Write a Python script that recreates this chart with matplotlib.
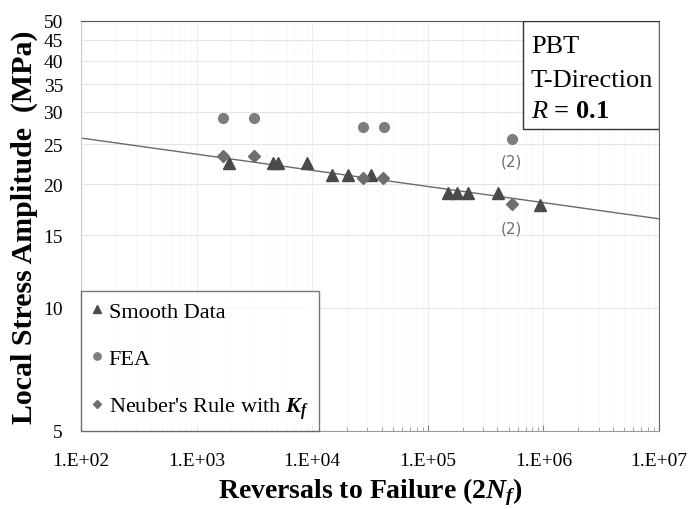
import matplotlib.pyplot as plt
import numpy as np
from matplotlib.patches import Rectangle
from matplotlib.ticker import FixedLocator, FixedFormatter, LogLocator, NullFormatter

plt.rcParams['font.family'] = ['Liberation Serif', 'DejaVu Serif']
plt.rcParams['mathtext.fontset'] = 'custom'
plt.rcParams['mathtext.rm'] = 'Liberation Serif:bold'
plt.rcParams['mathtext.it'] = 'Liberation Serif:italic:bold'
plt.rcParams['mathtext.bf'] = 'Liberation Serif:bold'
plt.rcParams['mathtext.cal'] = 'Liberation Serif:italic'

# Smooth specimen data
smooth_n = [1920, 4610, 5030, 8960, 14900, 20300, 32300, 150000, 180000, 221000, 407000, 935000]
smooth_s = [22.5, 22.5, 22.5, 22.5, 21.0, 21.0, 21.0, 19.0, 19.0, 19.0, 19.0, 17.8]

# FEA local stresses
fea_n = [1680, 3160, 27700, 41500, 532000]
fea_s = [29.0, 29.0, 27.6, 27.6, 25.8]

# Neuber's rule with Kf
neuber_n = [1680, 3160, 27400, 41000, 532000]
neuber_s = [23.4, 23.4, 20.7, 20.7, 17.9]

# fitted S-N line  S = A * (2Nf)^b
fit_a = 31.06
fit_b = -0.0394
fit_range = [1e2, 1e7]

y_ticks = [5, 10, 15, 20, 25, 30, 35, 40, 45, 50]
x_ticks = [1e2, 1e3, 1e4, 1e5, 1e6, 1e7]
x_tick_labels = ['1.E+02', '1.E+03', '1.E+04', '1.E+05', '1.E+06', '1.E+07']

fig = plt.figure(figsize=(6.89, 5.10), dpi=100)
ax = fig.add_axes([0.1176, 0.153, 0.839, 0.804])

n_line = np.logspace(np.log10(fit_range[0]), np.log10(fit_range[1]), 50)
ax.plot(n_line, fit_a * n_line ** fit_b, color='#6a6a6a', lw=1.0, zorder=2)

ax.plot(smooth_n, smooth_s, ls='none', marker='^', ms=8, color='#4a4a4a',
        label='Smooth Data', zorder=3)
ax.plot(fea_n, fea_s, ls='none', marker='o', ms=7, color='#7d7d7d',
        label='FEA', zorder=3)
ax.plot(neuber_n, neuber_s, ls='none', marker='D', ms=6, color='#6e6e6e',
        label="Neuber's Rule with $K_f$", zorder=3)

# "(2)" notes for repeated points
ax.annotate('(2)', (fea_n[-1], fea_s[-1]), xytext=(0, -16), textcoords='offset points',
            ha='center', va='center', fontsize=11, color='#707070', family='DejaVu Sans')
ax.annotate('(2)', (neuber_n[-1], neuber_s[-1]), xytext=(0, -17.5), textcoords='offset points',
            ha='center', va='center', fontsize=11, color='#707070', family='DejaVu Sans')

ax.set_xscale('log')
ax.set_yscale('log')
ax.set_xlim(1e2, 1e7)
ax.set_ylim(5, 50)

ax.yaxis.set_major_locator(FixedLocator(y_ticks))
ax.yaxis.set_major_formatter(FixedFormatter([str(v) for v in y_ticks]))
ax.yaxis.set_minor_locator(FixedLocator([]))
ax.tick_params(axis='y', which='both', length=0, labelsize=14, pad=13)

ax.xaxis.set_major_locator(FixedLocator(x_ticks))
ax.xaxis.set_major_formatter(FixedFormatter(x_tick_labels))
ax.xaxis.set_minor_locator(LogLocator(base=10, subs=np.arange(2, 10)))
ax.xaxis.set_minor_formatter(NullFormatter())
ax.tick_params(axis='x', which='major', direction='in', length=4, color='#888888',
               labelsize=14, pad=15)
ax.tick_params(axis='x', which='minor', direction='in', length=3, color='#999999')

ax.grid(True, axis='y', which='major', color='#e6e6e6', lw=0.8)
ax.grid(True, axis='x', which='major', color='#eeeeee', lw=0.8)
ax.grid(True, axis='x', which='minor', color='#f7f7f7', lw=0.6)
ax.set_axisbelow(True)

ax.spines['top'].set_color('#555555')
ax.spines['right'].set_color('#666666')
ax.spines['bottom'].set_color('#999999')
ax.spines['left'].set_color('#cccccc')

ax.set_ylabel('Local Stress Amplitude  (MPa)', fontsize=21.5, fontweight='bold', labelpad=4)
ax.set_xlabel('Reversals to Failure (2$N_f$)', fontsize=20, fontweight='bold', labelpad=5)

# info box
ax.add_patch(Rectangle((0.765, 0.737), 0.235, 0.263, transform=ax.transAxes,
                       facecolor='white', edgecolor='#333333', lw=1.0, zorder=5))
ax.text(0.778, 0.924, 'PBT', transform=ax.transAxes, fontsize=19, va='baseline', zorder=6)
ax.text(0.778, 0.842, 'T-Direction', transform=ax.transAxes, fontsize=19, va='baseline', zorder=6)
ax.text(0.778, 0.766, r'$\mathcal{R}$ = 0.1', transform=ax.transAxes, fontsize=19,
        fontweight='bold', va='baseline', zorder=6)

leg = ax.legend(loc='lower left', bbox_to_anchor=(0, 0), borderaxespad=0, fancybox=False,
                edgecolor='#555555', fontsize=16, handlelength=0.5, handletextpad=0.3,
                labelspacing=1.2, borderpad=0.45, markerscale=0.75)
leg.get_frame().set_linewidth(1.0)

fig.savefig('out.png', dpi=100)
